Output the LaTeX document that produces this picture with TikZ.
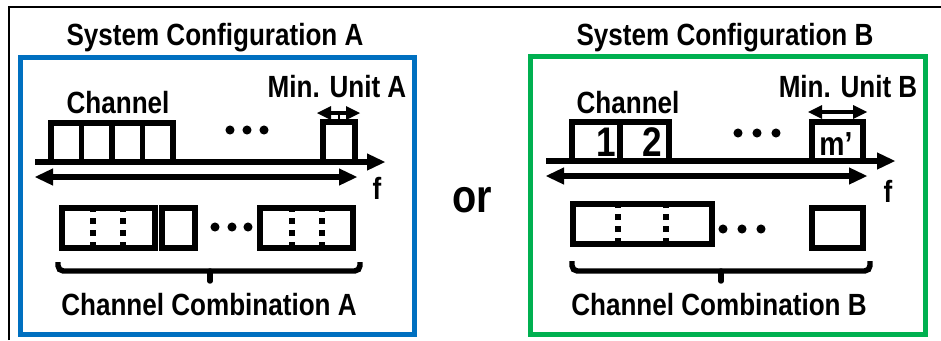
\documentclass[tikz,border=0pt]{standalone}
\usepackage{fontspec}
\setmainfont{Liberation Sans}[FakeStretch=0.85]
\usetikzlibrary{arrows.meta}
\definecolor{boxblue}{HTML}{0070C0}
\definecolor{boxgreen}{HTML}{00B050}
\begin{document}
\begin{tikzpicture}[x=0.75pt,y=-0.75pt,
  lbl/.style={font=\fontsize{23}{27}\selectfont\bfseries, inner sep=0pt, anchor=base},
  bigdigit/.style={font=\fontsize{31}{34}\selectfont\bfseries, inner sep=0pt, anchor=base},
  orlbl/.style={font=\fontsize{35}{38}\selectfont\bfseries, inner sep=0pt, anchor=base},
  chbox/.style={draw, line width=4.1pt},
  dashdiv/.style={line width=4.3pt, dash pattern=on 4.5pt off 4.5pt},
  faxis/.style={line width=5pt, -{Triangle[length=13.5pt,width=13pt,line width=0pt]}},
  span/.style={line width=5pt, {Triangle[length=13.5pt,width=13pt,line width=0pt]}-{Triangle[length=13.5pt,width=13pt,line width=0pt]}},
  minarr/.style={line width=3.5pt, {Triangle[length=10.5pt,width=10.5pt,line width=0pt]}-{Triangle[length=10.5pt,width=10.5pt,line width=0pt]}},
  brc/.style={line width=4.1pt, rounded corners=4pt},
  frame/.style={line width=1.9pt}
]
\useasboundingbox (0,0) rectangle (941,340);

% outer frame
\draw[frame] (9,340) -- (9,7) -- (941,7);

% coloured boxes
\draw[boxblue, line width=3.8pt] (20.5,57.5) rectangle (414.5,334.5);
\draw[boxgreen, line width=3.8pt] (530.5,56.5) rectangle (925.5,334.5);

% titles
\node[lbl] (tA) at (215,45) {System Configuration A};
\node[lbl] (tB) at (725,45) {System Configuration B};
\node[orlbl] (or) at (472,212) {or};

% ---------------- A ----------------
\node[lbl] (chA) at (118,113) {Channel};
\node[lbl] (muA) at (337,97) {Min. Unit A};
\node[lbl] (fA) at (377,199) {f};
\node[lbl] (ccA) at (209,315) {Channel Combination A};

\draw[chbox] (51,123) rectangle (173,162);
\draw[chbox] (81.5,123) -- (81.5,162);
\draw[chbox] (112,123) -- (112,162);
\draw[chbox] (142.5,123) -- (142.5,162);
\draw[chbox] (323,122) rectangle (355,162);
\coordinate (mAl) at (317,113);
\coordinate (mAr) at (360,113);
\draw[minarr] (mAl) -- (mAr);
\draw[line width=1.5pt] (339,113) -- (339,122);

\fill (230,130) circle (3.4pt);
\fill (247,130) circle (3.4pt);
\fill (264,130) circle (3.4pt);

\coordinate (axA0) at (35,162);
\coordinate (axA1) at (385,162);
\draw[faxis] (axA0) -- (axA1);
\coordinate (spA0) at (35,177);
\coordinate (spA1) at (357,177);
\draw[span] (spA0) -- (spA1);

\draw[chbox] (62,208) rectangle (155,248);
\draw[dashdiv] (93,248) -- (93,208);
\draw[dashdiv] (123,248) -- (123,208);
\draw[chbox] (162,208) rectangle (195,248);
\fill (215,227) circle (3.4pt);
\fill (232,227) circle (3.4pt);
\fill (248,227) circle (3.4pt);
\draw[chbox] (260,208) rectangle (353,248);
\draw[dashdiv] (292,248) -- (292,208);
\draw[dashdiv] (322,248) -- (322,208);

\draw[brc] (58,262) -- (58,271) -- (360,271) -- (360,262);
\draw[line width=4.1pt, line cap=round] (210,271) -- (210,281);

% ---------------- B ----------------
\node[lbl] (chB) at (628,113) {Channel};
\node[lbl] (muB) at (848,97) {Min. Unit B};
\node[lbl] (fB) at (888,202) {f};
\node[lbl] (ccB) at (719,315) {Channel Combination B};

\draw[chbox] (572,122) rectangle (669,161);
\draw[chbox] (620,122) -- (620,161);
\node[bigdigit] (n1) at (606,156) {1};
\node[bigdigit] (n2) at (652,156) {2};
\draw[chbox] (812,122) rectangle (863,161);
\node[lbl, font=\fontsize{25}{28}\selectfont\bfseries] (mp) at (836,155) {m’};
\coordinate (mBl) at (808,112);
\coordinate (mBr) at (867,112);
\draw[minarr] (mBl) -- (mBr);

\fill (738,133) circle (3.4pt);
\fill (757,133) circle (3.4pt);
\fill (776,133) circle (3.4pt);

\coordinate (axB0) at (546,161);
\coordinate (axB1) at (895,161);
\draw[faxis] (axB0) -- (axB1);
\coordinate (spB0) at (546,176);
\coordinate (spB1) at (867,176);
\draw[span] (spB0) -- (spB1);

\draw[chbox] (573,204) rectangle (712,244);
\draw[dashdiv] (618,244) -- (618,204);
\draw[dashdiv] (666,244) -- (666,204);
\fill (723,229) circle (3.4pt);
\fill (742,229) circle (3.4pt);
\fill (761,229) circle (3.4pt);
\draw[chbox] (812,208) rectangle (863,248);

\draw[brc] (572,261) -- (572,271) -- (870,271) -- (870,261);
\draw[line width=4.1pt, line cap=round] (721,271) -- (721,281);
\end{tikzpicture}
\end{document}
